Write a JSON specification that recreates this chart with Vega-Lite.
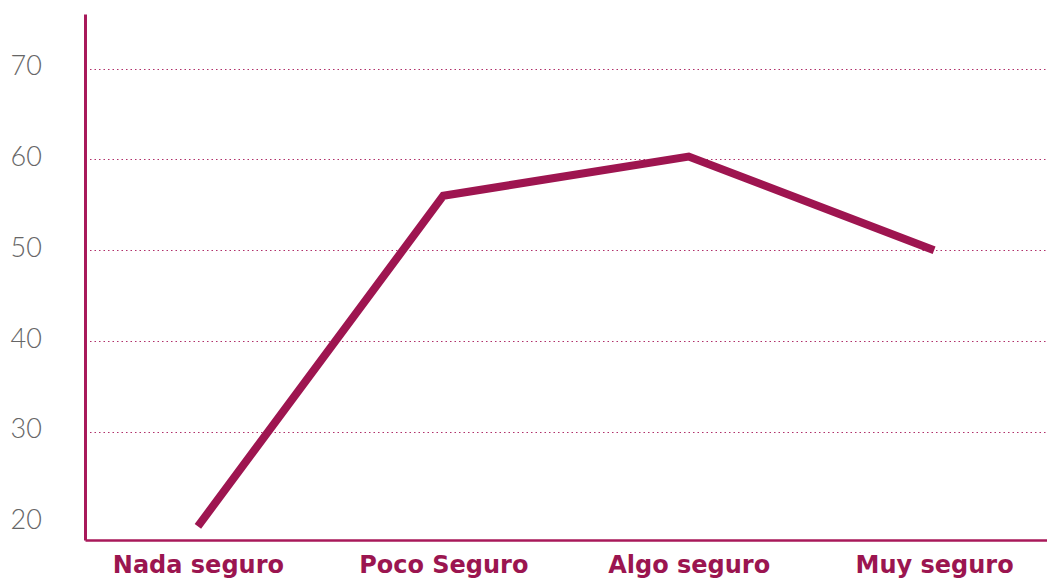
{
  "$schema": "https://vega.github.io/schema/vega-lite/v6.json",
  "width": 962,
  "height": 526,
  "autosize": "none",
  "padding": {"left": 85, "top": 14, "right": 0, "bottom": 42},
  "background": "white",
  "config": {"view": {"stroke": null}},
  "data": {
    "values": [
      {"categoria": "Nada seguro", "valor": 19.6},
      {"categoria": "Poco Seguro", "valor": 56},
      {"categoria": "Algo seguro", "valor": 60.3},
      {"categoria": "Muy seguro", "valor": 50}
    ]
  },
  "mark": {"type": "line", "color": "#9e1550", "strokeWidth": 8, "strokeCap": "butt", "strokeJoin": "miter"},
  "encoding": {
    "x": {
      "field": "categoria",
      "type": "nominal",
      "sort": null,
      "scale": {"type": "point", "padding": 0.46},
      "axis": {
        "title": null,
        "labelAngle": 0,
        "ticks": false,
        "grid": false,
        "domainColor": "#a8195a",
        "domainWidth": 2.5,
        "labelFont": "DejaVu Sans",
        "labelFontWeight": "bold",
        "labelFontSize": 24,
        "labelColor": "#9b1550",
        "labelPadding": 13
      }
    },
    "y": {
      "field": "valor",
      "type": "quantitative",
      "scale": {"domain": [18.1, 76], "nice": false, "zero": false},
      "axis": {
        "title": null,
        "values": [20, 30, 40, 50, 60, 70],
        "ticks": false,
        "grid": true,
        "gridColor": "#b0306a",
        "gridDash": [1.5, 3],
        "gridWidth": 1,
        "gridOpacity": {"condition": {"test": "datum.value === 20", "value": 0}, "value": 1},
        "domainColor": "#a8195a",
        "domainWidth": 3,
        "labelFont": "Lato",
        "labelFontWeight": 300,
        "labelFontSize": 27,
        "labelColor": "#666666",
        "labelAlign": "left",
        "labelPadding": 75,
        "labelOffset": -2
      }
    }
  }
}
